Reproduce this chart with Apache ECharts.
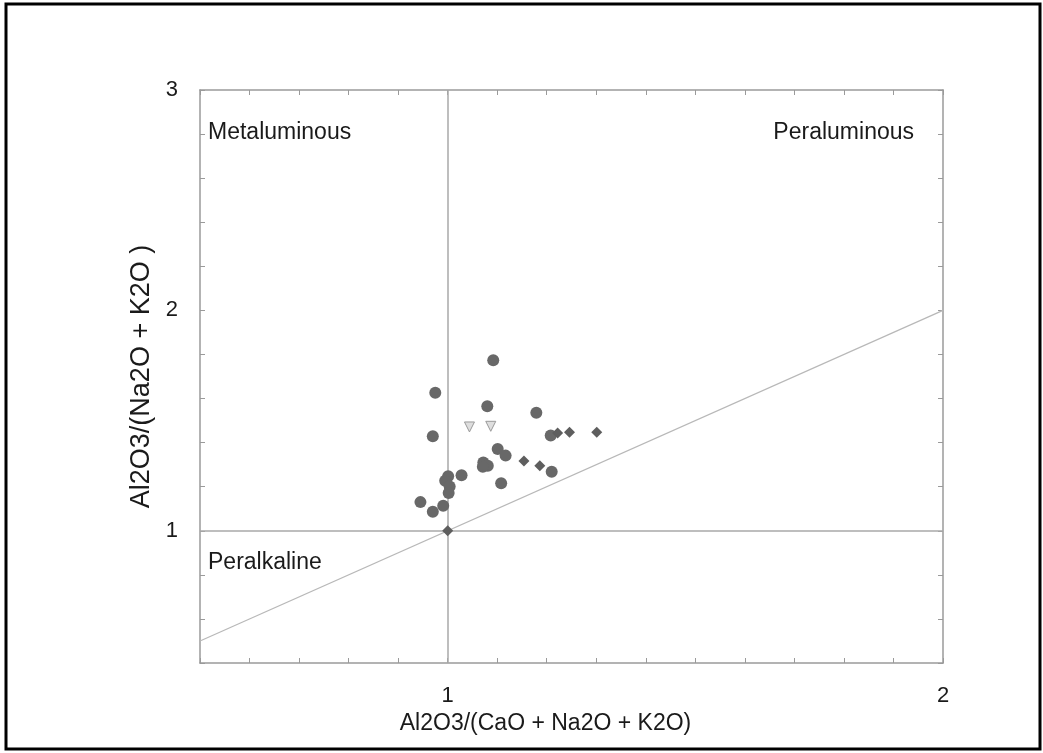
<!DOCTYPE html>
<html>
<head>
<meta charset="utf-8">
<script src="https://cdn.jsdelivr.net/npm/echarts@6/dist/echarts.min.js"></script>
<style>
  html, body { margin: 0; padding: 0; background: #fff; }
  #chart { width: 1043px; height: 753px; }
</style>
</head>
<body>
<div id="chart"></div>
<script>
// A/CNK vs A/NK (Shand index)
var circleX = [1.092, 0.975, 1.080, 1.179, 0.970, 1.208, 1.101, 1.117, 1.210, 1.072, 1.081, 1.071, 1.028, 1.001, 0.995, 1.004, 1.002, 1.108, 0.945, 0.970, 0.991];
var circleY = [1.774, 1.626, 1.565, 1.535, 1.429, 1.432, 1.371, 1.341, 1.268, 1.310, 1.295, 1.290, 1.252, 1.247, 1.227, 1.201, 1.171, 1.216, 1.130, 1.086, 1.114];
var diamondX = [1.222, 1.246, 1.301, 1.154, 1.186, 1.000];
var diamondY = [1.444, 1.447, 1.447, 1.317, 1.295, 1.000];
var triangleX = [1.044, 1.087];
var triangleY = [1.471, 1.474];
var xTickLabels = [1, 2];
var yTickLabels = [1, 2, 3];
var boundaryLine = [[0.5, 0.5], [2, 2]];

function pairs(xs, ys) {
  return xs.map(function (x, i) { return [x, ys[i]]; });
}
function onlyLabels(list) {
  return function (v) {
    for (var i = 0; i < list.length; i++) {
      if (Math.abs(v - list[i]) < 1e-6) return String(list[i]);
    }
    return '';
  };
}

var font = 'Liberation Sans, Arial, sans-serif';
var axisGray = '#9a9a9a';
var textColor = '#1a1a1a';

var myChart = echarts.init(document.getElementById('chart'));
var option = {
  animation: false,
  backgroundColor: '#fff',
  grid: { left: 200, right: 100, top: 90, bottom: 90 },
  xAxis: [
    {
      type: 'value', min: 0.5, max: 2, interval: 0.1,
      name: 'Al2O3/(CaO + Na2O + K2O)', nameLocation: 'middle', nameGap: 44,
      nameTextStyle: { fontFamily: font, fontSize: 23, color: textColor, padding: [0, 52, 0, 0] },
      axisLine: { show: true, lineStyle: { color: axisGray, width: 1.5 } },
      axisTick: { show: true, inside: true, length: 5, lineStyle: { color: axisGray } },
      axisLabel: { formatter: onlyLabels(xTickLabels), margin: 22, fontFamily: font, fontSize: 22, color: textColor },
      splitLine: { show: false }
    },
    {
      type: 'value', min: 0.5, max: 2, interval: 0.1, position: 'top',
      axisLine: { show: true, lineStyle: { color: axisGray, width: 1.5 } },
      axisTick: { show: true, inside: true, length: 5, lineStyle: { color: axisGray } },
      axisLabel: { show: false },
      splitLine: { show: false }
    }
  ],
  yAxis: [
    {
      type: 'value', min: 0.4, max: 3, interval: 0.2,
      name: 'Al2O3/(Na2O + K2O )', nameLocation: 'middle', nameGap: 41,
      nameTextStyle: { fontFamily: font, fontSize: 27, color: textColor },
      axisLine: { show: true, lineStyle: { color: axisGray, width: 1.5 } },
      axisTick: { show: true, inside: true, length: 5, lineStyle: { color: axisGray } },
      axisLabel: { formatter: onlyLabels(yTickLabels), margin: 22, fontFamily: font, fontSize: 22, color: textColor },
      splitLine: { show: false }
    },
    {
      type: 'value', min: 0.4, max: 3, interval: 0.2, position: 'right',
      axisLine: { show: true, lineStyle: { color: axisGray, width: 1.5 } },
      axisTick: { show: true, inside: true, length: 5, lineStyle: { color: axisGray } },
      axisLabel: { show: false },
      splitLine: { show: false }
    }
  ],
  graphic: [
    { type: 'rect', shape: { x: 6, y: 4, width: 1034, height: 745 }, style: { fill: 'none', stroke: '#000', lineWidth: 3 }, silent: true },
    { type: 'text', left: 208, top: 121, style: { text: 'Metaluminous', font: '23px ' + font, fill: textColor } },
    { type: 'text', right: 129, top: 121, style: { text: 'Peraluminous', font: '23px ' + font, fill: textColor } },
    { type: 'text', left: 208, top: 551, style: { text: 'Peralkaline', font: '23px ' + font, fill: textColor } }
  ],
  series: [
    {
      type: 'line', data: boundaryLine, symbol: 'none', silent: true, z: 1,
      lineStyle: { color: '#b8b8b8', width: 1.2 },
      markLine: {
        symbol: 'none', silent: true, label: { show: false }, z: 1,
        lineStyle: { color: '#a8a8a8', width: 1.5, type: 'solid' },
        data: [{ xAxis: 1 }, { yAxis: 1 }]
      }
    },
    {
      type: 'scatter', data: pairs(circleX, circleY), symbol: 'circle', symbolSize: 12, z: 5,
      itemStyle: { color: '#686868', opacity: 1 }
    },
    {
      type: 'scatter', data: pairs(diamondX, diamondY), symbol: 'diamond', symbolSize: 11, z: 6,
      itemStyle: { color: '#5e5e5e', opacity: 1 }
    },
    {
      type: 'scatter', data: pairs(triangleX, triangleY), symbol: 'triangle', symbolRotate: 180, symbolSize: 10, z: 6,
      itemStyle: { color: '#dedede', borderColor: '#9a9a9a', borderWidth: 1, opacity: 1 }
    }
  ]
};
myChart.setOption(option);
</script>
</body>
</html>
